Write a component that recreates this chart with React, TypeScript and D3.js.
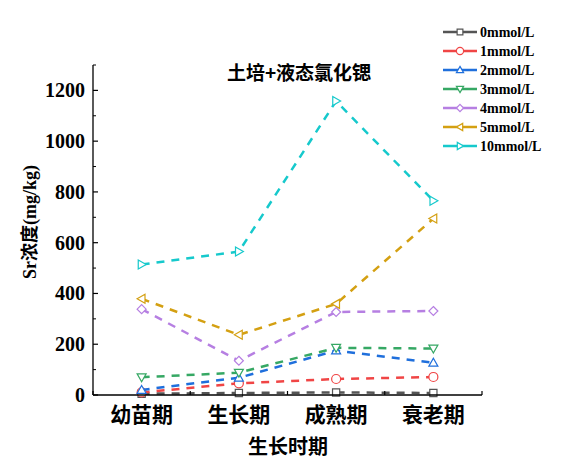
import React from "react";
import * as d3 from "d3";

const categories = ["幼苗期", "生长期", "成熟期", "衰老期"];
const seriesNames = ["0mmol/L", "1mmol/L", "2mmol/L", "3mmol/L", "4mmol/L", "5mmol/L", "10mmol/L"];
const s0 = [5, 8, 10, 8];
const s1 = [10, 46, 63, 71];
const s2 = [20, 68, 175, 127];
const s3 = [70, 88, 186, 183];
const s4 = [338, 135, 327, 331];
const s5 = [379, 237, 359, 695];
const s10 = [514, 565, 1158, 765];
const seriesValues = [s0, s1, s2, s3, s4, s5, s10];
const colors = ["#555555", "#f04545", "#1f6fdc", "#36a864", "#b67fe2", "#d4a012", "#16c9cc"];
const markerTypes = ["square", "circle", "up", "down", "diamond", "left", "right"];
const yTicks = [0, 200, 400, 600, 800, 1000, 1200];

const W = 578, H = 464;
const left = 93, right = 482, top = 65, bottom = 395;

function markerPath(t: string, r: number): string {
  switch (t) {
    case "square": return `M${-r * 0.8},${-r * 0.8}h${r * 1.6}v${r * 1.6}h${-r * 1.6}Z`;
    case "circle": return `M${r},0A${r},${r} 0 1,1 ${-r},0A${r},${r} 0 1,1 ${r},0Z`;
    case "up": return `M0,${-r}L${r},${r * 0.75}L${-r},${r * 0.75}Z`;
    case "down": return `M0,${r}L${r},${-r * 0.75}L${-r},${-r * 0.75}Z`;
    case "diamond": return `M0,${-r}L${r},0L0,${r}L${-r},0Z`;
    case "left": return `M${-r},0L${r * 0.75},${-r}L${r * 0.75},${r}Z`;
    default: return `M${r},0L${-r * 0.75},${-r}L${-r * 0.75},${r}Z`;
  }
}

export default function App() {
  const x = d3.scaleBand<string>().domain(categories).range([left, right]);
  const y = d3.scaleLinear().domain([0, 1300]).range([bottom, top]);
  const cx = (c: string) => (x(c) as number) + x.bandwidth() / 2;
  const line = d3.line<number>().x((_, i) => cx(categories[i])).y((v) => y(v));
  const minor = d3.range(0, 1301, 100).filter((v) => v % 200 !== 0);
  const bounds = [left, ...categories.map((c) => (x(c) as number) + x.bandwidth())];
  const serif = "'Liberation Serif', 'Times New Roman', serif";
  const cjk = "'Noto Sans CJK SC', sans-serif";

  return (
    <svg width={W} height={H} style={{ position: "absolute", left: 0, top: 0, background: "#fff" }}>
      {/* title */}
      <text x={299} y={80} textAnchor="middle" fontFamily={cjk} fontWeight="bold" fontSize={19}>土培+液态氯化锶</text>

      {/* series */}
      {seriesValues.map((vals, si) => (
        <g key={si}>
          <path d={line(vals) || ""} fill="none" stroke={colors[si]} strokeWidth={2.5} strokeDasharray="8,7" />
          {vals.map((v, i) => (
            <path key={i} d={markerPath(markerTypes[si], 4.5)} transform={`translate(${cx(categories[i])},${y(v)})`}
              fill="#fff" stroke={colors[si]} strokeWidth={1.2} />
          ))}
        </g>
      ))}

      {/* axes */}
      <line x1={left} x2={left} y1={top} y2={bottom} stroke="#000" strokeWidth={1.3} />
      <line x1={left} x2={right} y1={bottom} y2={bottom} stroke="#000" strokeWidth={1.3} />
      {yTicks.map((t) => (
        <g key={t}>
          <line x1={left} x2={left + 5} y1={y(t)} y2={y(t)} stroke="#000" strokeWidth={1.2} />
          <text x={85} y={y(t) + 7} textAnchor="end" fontFamily={serif} fontWeight="bold" fontSize={20}>{t}</text>
        </g>
      ))}
      {minor.map((t) => (
        <line key={t} x1={left} x2={left + 3} y1={y(t)} y2={y(t)} stroke="#000" strokeWidth={1} />
      ))}
      {bounds.map((b, i) => (
        <line key={i} x1={b} x2={b} y1={bottom} y2={bottom - 4} stroke="#000" strokeWidth={1.2} />
      ))}
      {categories.map((c) => (
        <text key={c} x={cx(c)} y={422} textAnchor="middle" fontFamily={cjk} fontWeight="bold" fontSize={21}>{c}</text>
      ))}
      <text x={288} y={454} textAnchor="middle" fontFamily={cjk} fontWeight="bold" fontSize={20}>生长时期</text>
      <text transform={`translate(36,222) rotate(-90)`} textAnchor="middle" fontFamily={serif} fontWeight="bold" fontSize={18}>
        Sr<tspan fontFamily={cjk}>浓度</tspan>(mg/kg)
      </text>

      {/* legend */}
      {seriesNames.map((n, i) => {
        const ly = 32 + i * 19;
        return (
          <g key={n}>
            <line x1={443} x2={477} y1={ly} y2={ly} stroke={colors[i]} strokeWidth={2.5} />
            <path d={markerPath(markerTypes[i], 3.6)} transform={`translate(460,${ly})`} fill="#fff" stroke={colors[i]} strokeWidth={1.2} />
            <text x={480} y={ly + 5} fontFamily={serif} fontWeight="bold" fontSize={14}>{n}</text>
          </g>
        );
      })}
    </svg>
  );
}
